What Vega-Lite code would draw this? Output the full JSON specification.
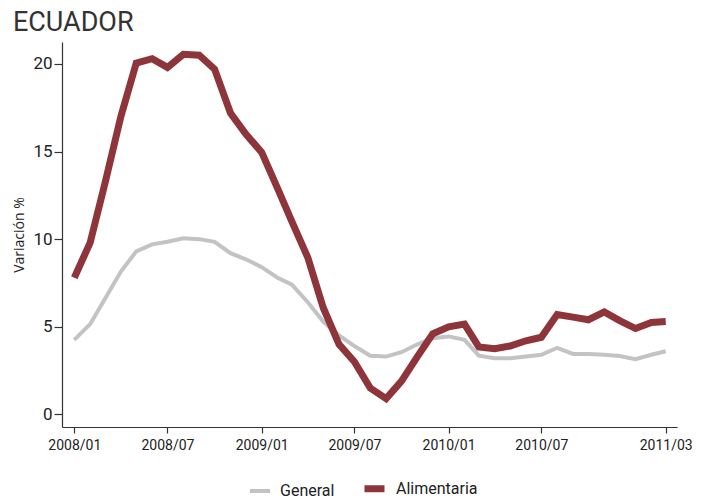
{
  "$schema": "https://vega.github.io/schema/vega-lite/v6.json",
  "width": 615,
  "height": 385,
  "padding": {"left": 12, "top": 9, "right": 10, "bottom": 2},
  "title": {"text": "ECUADOR", "anchor": "start", "frame": "bounds", "font": "Roboto", "fontSize": 27, "fontWeight": "normal", "color": "#333333", "offset": 3},
  "data": {"values": [
    {"date": "2008-01-01", "serie": "General", "value": 4.25},
    {"date": "2008-02-01", "serie": "General", "value": 5.15},
    {"date": "2008-03-01", "serie": "General", "value": 6.6},
    {"date": "2008-04-01", "serie": "General", "value": 8.15},
    {"date": "2008-05-01", "serie": "General", "value": 9.3},
    {"date": "2008-06-01", "serie": "General", "value": 9.7},
    {"date": "2008-07-01", "serie": "General", "value": 9.85},
    {"date": "2008-08-01", "serie": "General", "value": 10.05},
    {"date": "2008-09-01", "serie": "General", "value": 10.0},
    {"date": "2008-10-01", "serie": "General", "value": 9.85},
    {"date": "2008-11-01", "serie": "General", "value": 9.2},
    {"date": "2008-12-01", "serie": "General", "value": 8.85},
    {"date": "2009-01-01", "serie": "General", "value": 8.4},
    {"date": "2009-02-01", "serie": "General", "value": 7.8},
    {"date": "2009-03-01", "serie": "General", "value": 7.4},
    {"date": "2009-04-01", "serie": "General", "value": 6.4},
    {"date": "2009-05-01", "serie": "General", "value": 5.3},
    {"date": "2009-06-01", "serie": "General", "value": 4.5},
    {"date": "2009-07-01", "serie": "General", "value": 3.9},
    {"date": "2009-08-01", "serie": "General", "value": 3.35},
    {"date": "2009-09-01", "serie": "General", "value": 3.3},
    {"date": "2009-10-01", "serie": "General", "value": 3.55},
    {"date": "2009-11-01", "serie": "General", "value": 4.0},
    {"date": "2009-12-01", "serie": "General", "value": 4.35},
    {"date": "2010-01-01", "serie": "General", "value": 4.45},
    {"date": "2010-02-01", "serie": "General", "value": 4.25},
    {"date": "2010-03-01", "serie": "General", "value": 3.35},
    {"date": "2010-04-01", "serie": "General", "value": 3.2},
    {"date": "2010-05-01", "serie": "General", "value": 3.2},
    {"date": "2010-06-01", "serie": "General", "value": 3.3},
    {"date": "2010-07-01", "serie": "General", "value": 3.4},
    {"date": "2010-08-01", "serie": "General", "value": 3.8},
    {"date": "2010-09-01", "serie": "General", "value": 3.45},
    {"date": "2010-10-01", "serie": "General", "value": 3.45},
    {"date": "2010-11-01", "serie": "General", "value": 3.4},
    {"date": "2010-12-01", "serie": "General", "value": 3.33},
    {"date": "2011-01-01", "serie": "General", "value": 3.15},
    {"date": "2011-02-01", "serie": "General", "value": 3.4},
    {"date": "2011-03-01", "serie": "General", "value": 3.6},
    {"date": "2008-01-01", "serie": "Alimentaria", "value": 7.8},
    {"date": "2008-02-01", "serie": "Alimentaria", "value": 9.8},
    {"date": "2008-03-01", "serie": "Alimentaria", "value": 13.2},
    {"date": "2008-04-01", "serie": "Alimentaria", "value": 17.0},
    {"date": "2008-05-01", "serie": "Alimentaria", "value": 20.05},
    {"date": "2008-06-01", "serie": "Alimentaria", "value": 20.3},
    {"date": "2008-07-01", "serie": "Alimentaria", "value": 19.8},
    {"date": "2008-08-01", "serie": "Alimentaria", "value": 20.55},
    {"date": "2008-09-01", "serie": "Alimentaria", "value": 20.5},
    {"date": "2008-10-01", "serie": "Alimentaria", "value": 19.7},
    {"date": "2008-11-01", "serie": "Alimentaria", "value": 17.2},
    {"date": "2008-12-01", "serie": "Alimentaria", "value": 16.0},
    {"date": "2009-01-01", "serie": "Alimentaria", "value": 14.95},
    {"date": "2009-02-01", "serie": "Alimentaria", "value": 12.9},
    {"date": "2009-03-01", "serie": "Alimentaria", "value": 11.0},
    {"date": "2009-04-01", "serie": "Alimentaria", "value": 8.95},
    {"date": "2009-05-01", "serie": "Alimentaria", "value": 6.1},
    {"date": "2009-06-01", "serie": "Alimentaria", "value": 4.0},
    {"date": "2009-07-01", "serie": "Alimentaria", "value": 3.0},
    {"date": "2009-08-01", "serie": "Alimentaria", "value": 1.5},
    {"date": "2009-09-01", "serie": "Alimentaria", "value": 0.9},
    {"date": "2009-10-01", "serie": "Alimentaria", "value": 1.9},
    {"date": "2009-11-01", "serie": "Alimentaria", "value": 3.3},
    {"date": "2009-12-01", "serie": "Alimentaria", "value": 4.6},
    {"date": "2010-01-01", "serie": "Alimentaria", "value": 5.0},
    {"date": "2010-02-01", "serie": "Alimentaria", "value": 5.15},
    {"date": "2010-03-01", "serie": "Alimentaria", "value": 3.85},
    {"date": "2010-04-01", "serie": "Alimentaria", "value": 3.75},
    {"date": "2010-05-01", "serie": "Alimentaria", "value": 3.9},
    {"date": "2010-06-01", "serie": "Alimentaria", "value": 4.2},
    {"date": "2010-07-01", "serie": "Alimentaria", "value": 4.4},
    {"date": "2010-08-01", "serie": "Alimentaria", "value": 5.7},
    {"date": "2010-09-01", "serie": "Alimentaria", "value": 5.55},
    {"date": "2010-10-01", "serie": "Alimentaria", "value": 5.4},
    {"date": "2010-11-01", "serie": "Alimentaria", "value": 5.85},
    {"date": "2010-12-01", "serie": "Alimentaria", "value": 5.35},
    {"date": "2011-01-01", "serie": "Alimentaria", "value": 4.9},
    {"date": "2011-02-01", "serie": "Alimentaria", "value": 5.25},
    {"date": "2011-03-01", "serie": "Alimentaria", "value": 5.3}
  ]},
  "encoding": {
    "x": {
      "field": "date", "type": "temporal",
      "scale": {"type": "utc", "domain": [
        {"year": 2007, "month": 12, "date": 8, "utc": true},
        {"year": 2011, "month": 3, "date": 23, "utc": true}
      ]},
      "axis": {
        "title": null,
        "format": "%Y/%m",
        "values": [
          {"year": 2008, "month": 1, "date": 1, "utc": true},
          {"year": 2008, "month": 7, "date": 1, "utc": true},
          {"year": 2009, "month": 1, "date": 1, "utc": true},
          {"year": 2009, "month": 7, "date": 1, "utc": true},
          {"year": 2010, "month": 1, "date": 1, "utc": true},
          {"year": 2010, "month": 7, "date": 1, "utc": true},
          {"year": 2011, "month": 3, "date": 1, "utc": true}
        ],
        "labelFlush": false,
        "labelOverlap": false,
        "tickSize": 6,
        "labelPadding": 5,
        "labelFontSize": 14
      }
    },
    "y": {
      "field": "value", "type": "quantitative",
      "scale": {"domain": [-0.72, 21.25], "nice": false, "zero": false},
      "axis": {
        "title": "Variación %",
        "values": [0, 5, 10, 15, 20],
        "tickSize": 8,
        "labelPadding": 2,
        "labelFontSize": 17,
        "titleFont": "Open Sans",
        "titleFontSize": 14,
        "titleFontWeight": "normal",
        "titleColor": "#222222",
        "titlePadding": 6
      }
    },
    "color": {
      "field": "serie", "type": "nominal",
      "scale": {"domain": ["General", "Alimentaria"], "range": ["#c3c3c3", "#8d353b"]},
      "legend": {
        "title": null,
        "encode": {"symbols": {"update": {"strokeWidth": {"signal": "datum.value === 'Alimentaria' ? 7 : 5"}}}}
      }
    },
    "strokeWidth": {
      "field": "serie", "type": "nominal",
      "scale": {"domain": ["General", "Alimentaria"], "range": [4, 7]},
      "legend": null
    }
  },
  "layer": [
    {"transform": [{"filter": "datum.serie === 'General'"}], "mark": {"type": "line", "strokeJoin": "miter"}},
    {"transform": [{"filter": "datum.serie === 'Alimentaria'"}], "mark": {"type": "line", "strokeJoin": "miter"}}
  ],
  "config": {
    "view": {"stroke": null},
    "axis": {
      "grid": false,
      "domainColor": "#333333",
      "tickColor": "#333333",
      "labelColor": "#222222",
      "labelFont": "Roboto",
      "domainWidth": 1.2,
      "tickWidth": 1.2
    },
    "legend": {
      "orient": "none",
      "legendX": 186,
      "legendY": 433,
      "direction": "horizontal",
      "symbolType": "stroke",
      "symbolSize": 400,
      "labelFont": "Roboto",
      "labelFontSize": 16,
      "labelColor": "#222222",
      "labelOffset": 8,
      "columnPadding": 15
    }
  }
}
